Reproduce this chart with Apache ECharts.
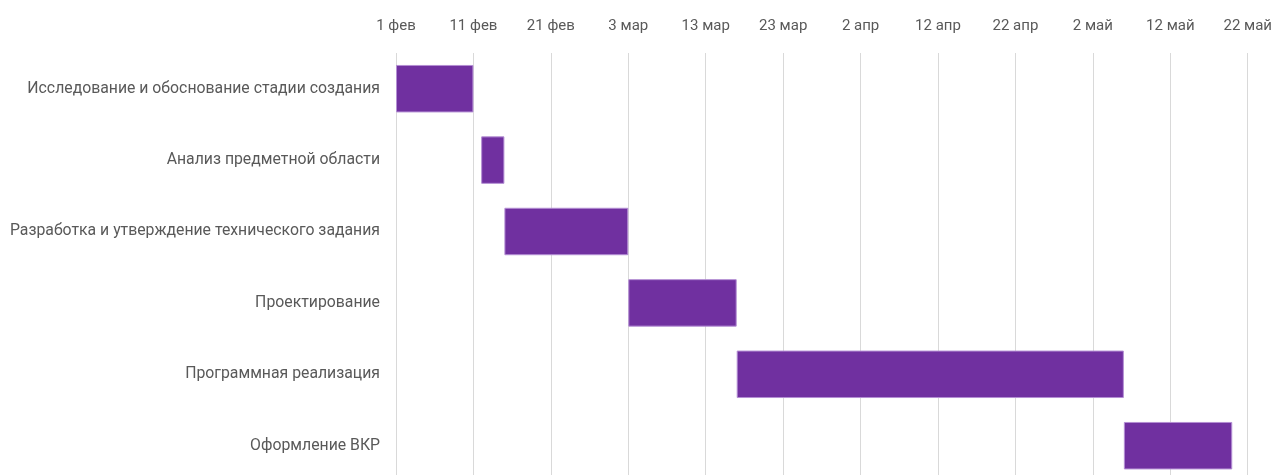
<!DOCTYPE html>
<html>
<head>
<meta charset="utf-8">
<script src="https://cdn.jsdelivr.net/npm/echarts@6/dist/echarts.min.js"></script>
<style>
  html, body { margin: 0; padding: 0; background: #fff; overflow: hidden; }
  /* plot runs past the bottom edge, as in the original */
  #box { width: 1275px; height: 490px; }
</style>
</head>
<body>
<div id="box"></div>
<script>
// этапы работ
const tasks = [
  "Исследование и обоснование стадии создания",
  "Анализ предметной области",
  "Разработка и утверждение технического задания",
  "Проектирование",
  "Программная реализация",
  "Оформление ВКР",
];
// дни от 1 фев
const startDay = [0, 11, 14, 30, 44, 94];
const endDay = [10, 14, 30, 44, 94, 108];
// подписи шкалы через каждые 10 дней
const tickLabels = [
  "1 фев", "11 фев", "21 фев", "3 мар", "13 мар", "23 мар",
  "2 апр", "12 апр", "22 апр", "2 май", "12 май", "22 май",
];

const duration = endDay.map((v, i) => v - startDay[i]);

let myChart = echarts.init(document.getElementById("box"));
let font = "Roboto, 'Open Sans', sans-serif";
let option = {
  animation: false,
  grid: {
    left: 396,
    right: 27,
    top: 53,
    bottom: 8.6,
    containLabel: false,
  },
  xAxis: {
    type: "value",
    position: "top",
    min: 0,
    max: 110,
    interval: 10,
    axisLine: { show: false },
    axisTick: { show: false },
    splitLine: { lineStyle: { color: "#d9d9d9", width: 1 } },
    axisLabel: {
      margin: 19,
      color: "#595959",
      fontSize: 15,
      fontFamily: font,
      formatter: (v) => tickLabels[Math.round(v / 10)],
    },
  },
  yAxis: {
    type: "category",
    inverse: true,
    data: tasks,
    axisLine: { show: false },
    axisTick: { show: false },
    axisLabel: {
      margin: 16,
      color: "#595959",
      fontSize: 15.8,
      fontFamily: font,
    },
  },
  series: [
    {
      type: "bar",
      stack: "gantt",
      data: startDay,
      itemStyle: { color: "transparent" },
      silent: true,
      barCategoryGap: "33.5%",
    },
    {
      type: "bar",
      stack: "gantt",
      data: duration,
      barCategoryGap: "33.5%",
      itemStyle: {
        color: "#7030a0",
        borderColor: "#b48fd4",
        borderWidth: 1,
      },
    },
  ],
};
myChart.setOption(option);
</script>
</body>
</html>
